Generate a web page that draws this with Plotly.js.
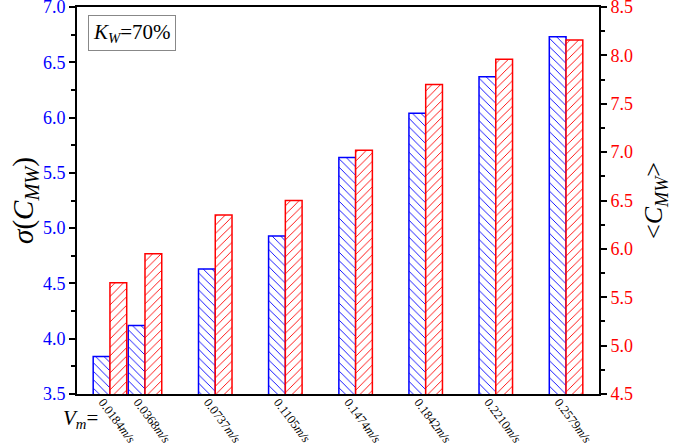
<!DOCTYPE html>
<html>
<head>
<meta charset="utf-8">
<script src="https://cdn.plot.ly/plotly-3.0.1.min.js"></script>
<style>body{margin:0;background:#fff}</style>
</head>
<body>
<div id="chart" style="width:675px;height:445px"></div>
<script>
// flow velocity of each case (m/s)
var velocities = [0.0184, 0.0368, 0.0737, 0.1105, 0.1474, 0.1842, 0.2210, 0.2579];
var velocityLabels = ['0.0184', '0.0368', '0.0737', '0.1105', '0.1474', '0.1842', '0.2210', '0.2579'];
// sigma(C_MW), left axis
var sigmaValues = [3.84, 4.12, 4.63, 4.93, 5.64, 6.04, 6.37, 6.73];
// <C_MW>, right axis
var meanValues = [5.65, 5.95, 6.35, 6.50, 7.02, 7.70, 7.96, 8.16];

var barW = 0.0088;
var serif = 'Liberation Serif';

var sigma = {
  x: velocities,
  y: sigmaValues,
  type: 'bar',
  yaxis: 'y',
  width: barW,
  offset: -barW,
  marker: {
    color: 'white',
    line: {color: 'blue', width: 1.5},
    pattern: {shape: '\\', fgcolor: 'blue', bgcolor: 'white', size: 6, solidity: 0.15}
  },
  showlegend: false,
  hoverinfo: 'x+y'
};

var mean = {
  x: velocities,
  y: meanValues,
  type: 'bar',
  yaxis: 'y2',
  width: barW,
  offset: 0,
  marker: {
    color: 'white',
    line: {color: 'red', width: 1.5},
    pattern: {shape: '/', fgcolor: 'red', bgcolor: 'white', size: 6, solidity: 0.15}
  },
  showlegend: false,
  hoverinfo: 'x+y'
};

var ticktext = velocityLabels.map(function (v) { return v + '<i>m/s</i>'; });

var layout = {
  width: 675,
  height: 445,
  margin: {l: 77, r: 76, t: 7, b: 51},
  paper_bgcolor: 'white',
  plot_bgcolor: 'white',
  font: {family: serif, color: 'black'},
  xaxis: {
    range: [0.0011, 0.2752],
    tickvals: velocities,
    ticktext: ticktext,
    tickangle: 53,
    ticks: '',
    ticklen: 0,
    ticklabelstandoff: -6,
    ticklabelshift: -7,
    ticklabeloverflow: 'allow',
    tickfont: {family: serif, size: 12.5, color: 'black'},
    showline: true,
    linecolor: 'black',
    linewidth: 2,
    mirror: true,
    showgrid: false,
    zeroline: false
  },
  yaxis: {
    range: [3.5, 7.0],
    dtick: 0.5,
    tick0: 3.5,
    tickformat: '.1f',
    ticks: 'outside',
    ticklen: 6,
    tickwidth: 1.5,
    tickcolor: 'black',
    ticklabeloverflow: 'allow',
    minor: {dtick: 0.25, ticks: 'outside', ticklen: 4, tickwidth: 1.5, tickcolor: 'black'},
    tickfont: {family: serif, size: 18, color: 'blue'},
    showline: true,
    linecolor: 'black',
    linewidth: 2,
    showgrid: false,
    zeroline: false,
    title: {text: '<i>σ</i>(<i>C<sub>MW</sub></i>)', font: {family: serif, size: 29, color: 'black'}, standoff: 1}
  },
  yaxis2: {
    overlaying: 'y',
    side: 'right',
    range: [4.5, 8.5],
    dtick: 0.5,
    tick0: 4.5,
    tickformat: '.1f',
    ticks: 'outside',
    ticklen: 6,
    tickwidth: 1.5,
    tickcolor: 'black',
    ticklabeloverflow: 'allow',
    minor: {dtick: 0.25, ticks: 'outside', ticklen: 4, tickwidth: 1.5, tickcolor: 'black'},
    tickfont: {family: serif, size: 18, color: 'red'},
    showline: true,
    linecolor: 'black',
    linewidth: 2,
    showgrid: false,
    zeroline: false,
    title: {text: '&lt;<i>C<sub>MW</sub></i>&gt;', font: {family: serif, size: 26, color: 'black'}, standoff: 12}
  },
  annotations: [
    {
      xref: 'paper', yref: 'paper', x: 0.021, y: 0.979,
      xanchor: 'left', yanchor: 'top',
      text: '<i>K<sub>W</sub></i>=70%',
      showarrow: false,
      font: {family: serif, size: 21, color: 'black'},
      bordercolor: '#888', borderwidth: 1, borderpad: 4, bgcolor: 'white'
    },
    {
      xref: 'paper', yref: 'paper', x: -0.03, y: -0.065,
      xanchor: 'left', yanchor: 'middle',
      text: '<i>V<sub>m</sub></i>=',
      showarrow: false,
      font: {family: serif, size: 21, color: 'black'}
    }
  ]
};

Plotly.newPlot('chart', [sigma, mean], layout, {displayModeBar: false});
</script>
</body>
</html>
